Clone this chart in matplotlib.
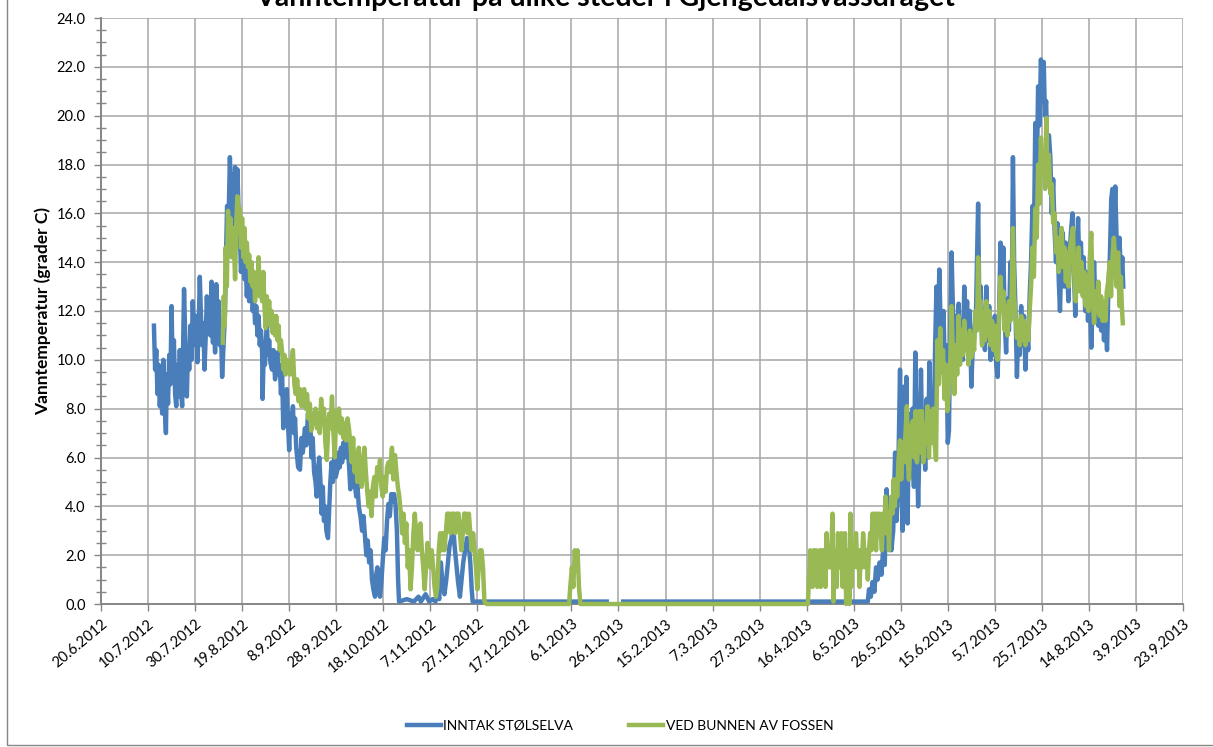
import datetime as dt

import numpy as np
import matplotlib
matplotlib.use('Agg')
import matplotlib.pyplot as plt
from matplotlib.patches import Rectangle

plt.rcParams['font.family'] = ['Lato', 'DejaVu Sans']

# day offset from 20.6.2012, temperature (grader C)
start = dt.datetime(2012, 6, 20)

inntak = [
    (22.5, 11.4), (23, 9.6), (23.5, 10.4), (24, 8.6), (24.5, 9.8), (25, 8.1), (25.5, 9.2),
    (26, 7.8), (26.5, 10.0), (27, 8.3), (27.6, 7.0), (28, 9.4), (28.5, 8.2), (29, 10.2),
    (29.5, 9.0), (30, 12.2), (30.5, 9.4), (31, 10.8), (31.5, 8.6), (32, 8.1), (32.5, 9.8),
    (33, 8.5), (33.5, 10.4), (34, 8.8), (34.5, 8.1), (35.3, 12.9), (36, 10.2), (36.5, 8.5),
    (37, 10.5), (37.5, 9.6), (38, 11.4), (38.5, 10.0), (39, 12.4), (39.5, 11.0), (40, 10.6),
    (40.5, 11.8), (41, 9.9), (41.5, 11.2), (42, 13.4), (42.5, 11.8), (43, 10.6), (43.5, 11.5),
    (44, 9.6), (44.5, 10.9), (45, 12.6), (45.5, 11.4), (46, 12.2), (46.5, 11.0), (47, 13.2),
    (47.6, 10.7), (48, 12.0), (48.5, 10.3), (49, 13.1), (49.5, 11.5), (50, 12.4), (50.5, 10.6),
    (51, 11.2), (51.5, 9.3), (52, 10.4), (52.7, 11.9), (53.2, 14.5), (53.6, 16.3), (54.2, 15.5),
    (54.8, 18.3), (55.3, 16.4), (55.6, 17.6), (56, 14.5), (56.5, 16.0), (57, 17.9), (57.5, 15.6),
    (58, 17.8), (58.5, 16.0), (59, 15.4), (59.5, 13.6), (60, 14.4), (60.5, 13.8), (61, 13.3),
    (61.5, 14.0), (62, 12.6), (62.5, 13.6), (63, 12.4), (63.5, 13.2), (64, 12.9), (64.5, 12.0),
    (65, 12.6), (65.5, 11.5), (66, 12.2), (66.5, 11.0), (67, 11.8), (67.5, 10.6), (68, 11.2),
    (68.5, 10.3), (68.7, 8.4), (69.2, 10.4), (69.7, 9.8), (70.5, 11.6), (71, 10.2), (71.5, 10.8),
    (72, 9.9), (72.7, 9.6), (73.3, 10.4), (74, 9.2), (74.5, 10.0), (75, 10.3), (75.5, 9.4),
    (76, 9.8), (76.5, 8.6), (77, 9.5), (77.5, 7.2), (78, 8.4), (78.5, 7.6), (79, 8.8),
    (79.5, 7.4), (80, 6.3), (80.5, 7.8), (81, 7.2), (81.6, 8.1), (82, 7.0), (82.5, 7.6),
    (83, 6.4), (83.8, 5.6), (84.6, 5.5), (85.2, 6.8), (85.8, 6.2), (86.7, 7.2), (87.3, 6.5),
    (88, 7.8), (88.5, 6.8), (89, 7.4), (89.5, 6.0), (90, 6.8), (90.6, 5.4), (91.2, 5.0),
    (91.7, 4.4), (92.3, 5.6), (92.8, 6.0), (93.3, 5.0), (93.8, 3.7), (94.3, 4.8), (94.8, 3.4),
    (95.3, 4.0), (95.8, 3.0), (96.5, 2.7), (97, 3.8), (97.5, 5.0), (98, 5.8), (98.6, 5.0),
    (99.2, 6.0), (99.8, 5.2), (100.5, 5.5), (101, 6.2), (101.5, 5.6), (102, 6.4), (102.5, 5.8),
    (103, 6.6), (103.5, 6.0), (104, 6.8), (104.5, 7.0), (105, 6.2), (105.5, 5.6), (106, 4.7),
    (106.6, 5.4), (107.2, 5.8), (107.8, 5.0), (108.5, 4.4), (109, 4.9), (109.6, 4.0),
    (110.3, 3.6), (111, 3.0), (111.6, 3.6), (112.2, 2.8), (112.8, 2.0), (113.4, 2.6), (114, 1.7),
    (114.6, 2.2), (115.2, 1.0), (115.8, 0.6), (116.5, 0.3), (117, 1.2), (117.5, 1.5), (118, 0.8),
    (118.6, 0.3), (119.2, 0.9), (119.8, 1.8), (120.4, 2.7), (121, 2.2), (121.6, 3.4),
    (122.2, 4.1), (122.8, 3.6), (123.4, 4.5), (124, 4.2), (124.6, 4.5), (125.2, 4.1),
    (125.8, 3.0), (126.3, 1.0), (126.7, 0.1), (130, 0.2), (133, 0.1), (135, 0.3), (136, 0.1),
    (138, 0.4), (139.5, 0.1), (141, 0.2), (142.2, 0.1), (143, 0.6), (143.8, 0.2), (144.5, 1.7),
    (145.2, 0.8), (146, 0.4), (146.8, 1.0), (147.5, 1.7), (148.2, 2.4), (149, 2.7), (149.7, 3.3),
    (150.3, 2.4), (151, 1.7), (151.8, 0.9), (152.6, 0.3), (153.3, 1.0), (154, 1.7), (154.8, 2.2),
    (155.6, 2.7), (156.3, 2.5), (157, 1.7), (157.6, 0.6), (158, 0.1), (215, 0.1),
    (218, np.nan), (222, 0.1), (326, 0.1),
    (326.5, 0.6), (327.3, 0.3), (328, 0.9), (328.8, 0.5), (329.5, 1.5), (330.2, 1.0),
    (331, 1.7), (331.8, 1.2), (332.5, 2.2), (333.2, 1.6), (334, 4.7), (334.5, 2.4), (335.2, 3.2),
    (336, 2.2), (336.8, 3.0), (337.6, 6.2), (338.2, 3.4), (338.8, 4.5), (339.7, 9.6),
    (340.2, 5.8), (340.8, 3.0), (341.3, 8.9), (341.8, 6.0), (342.4, 9.3), (342.9, 3.3),
    (343.5, 7.8), (344.2, 5.2), (345, 8.0), (345.6, 4.8), (346.2, 10.3), (346.8, 6.5),
    (347.4, 4.0), (348, 6.8), (348.6, 9.6), (349.2, 6.2), (349.8, 7.2), (350.4, 5.5),
    (351, 8.4), (351.6, 6.0), (352.2, 9.9), (352.8, 7.0), (353.4, 8.2), (354, 7.0),
    (354.6, 10.5), (355.2, 13.0), (355.8, 10.8), (356.4, 13.7), (357, 11.2), (357.6, 9.5),
    (358.2, 12.0), (358.8, 9.2), (359.4, 10.6), (360, 6.6), (360.5, 7.1), (361, 11.0),
    (361.6, 14.4), (362.2, 12.0), (362.8, 9.4), (363.4, 11.8), (364, 9.9), (364.6, 12.3),
    (365.2, 10.4), (365.8, 11.6), (366.4, 10.0), (367, 13.0), (367.6, 11.0), (368.2, 12.4),
    (368.8, 10.2), (369.4, 12.0), (370, 8.9), (370.6, 10.5), (371.2, 11.0), (372, 12.0),
    (372.9, 16.4), (373.5, 11.4), (374, 13.0), (374.6, 10.6), (375.2, 11.8), (375.8, 10.4),
    (376.4, 13.0), (377, 10.8), (377.6, 12.2), (378.2, 10.0), (378.8, 11.6), (379.4, 10.2),
    (380, 11.8), (380.6, 9.8), (381.2, 9.3), (381.8, 11.8), (382.4, 14.8), (383, 12.2),
    (383.6, 14.6), (384.2, 11.6), (384.8, 10.3), (385.4, 12.5), (386, 11.2), (386.6, 14.0),
    (387.2, 12.4), (387.7, 18.3), (388.2, 14.0), (388.8, 12.0), (389.4, 9.3), (390, 11.4),
    (390.6, 10.2), (391.2, 12.2), (391.8, 10.6), (392.4, 11.8), (393, 9.6), (393.6, 11.2),
    (394.2, 10.4), (394.8, 12.6), (395.4, 14.0), (396, 16.3), (396.6, 14.8), (397.2, 19.7),
    (397.8, 17.2), (398.4, 21.2), (399, 19.6), (399.6, 22.3), (400.2, 20.6), (400.8, 22.2),
    (401.3, 20.0), (401.8, 20.6), (402.4, 18.0), (403, 19.2), (403.6, 18.3), (404.2, 16.0),
    (404.8, 17.4), (405.4, 15.3), (406, 14.0), (406.6, 15.6), (407.2, 13.2), (407.7, 12.0),
    (408.3, 14.2), (408.9, 15.2), (409.5, 13.0), (410.1, 14.8), (410.7, 13.6), (411.3, 12.4),
    (411.9, 14.6), (412.5, 15.4), (413, 16.0), (413.6, 13.8), (414.2, 11.8), (414.8, 14.4),
    (415.4, 15.8), (416, 13.4), (416.6, 14.8), (417.2, 13.0), (417.8, 14.2), (418.4, 12.0),
    (419, 13.6), (419.6, 11.6), (420.3, 12.8), (421, 10.5), (421.6, 12.4), (422.2, 14.0),
    (422.8, 12.2), (423.4, 13.0), (424, 11.4), (424.6, 12.6), (425.2, 11.2), (425.8, 12.4),
    (426.4, 10.8), (427, 12.0), (427.7, 10.4), (428.3, 13.0), (428.9, 14.2), (429.5, 16.6),
    (430, 17.0), (430.6, 15.0), (431.2, 17.1), (431.8, 14.8), (432.4, 13.6), (433, 15.0),
    (433.6, 13.4), (434.2, 14.2), (434.6, 13.0),
]

fossen = [
    (51.8, 10.7), (52.2, 12.6), (52.6, 11.4), (53, 14.6), (53.5, 13.0), (54, 16.1), (54.5, 14.4),
    (55, 15.8), (55.5, 14.2), (56, 15.4), (56.5, 14.8), (57, 13.3), (57.5, 15.6), (58, 16.7),
    (58.5, 15.2), (59, 16.2), (59.5, 14.6), (60, 15.8), (60.5, 14.2), (61, 15.4), (61.5, 14.0),
    (62, 14.8), (62.5, 13.8), (63, 14.3), (63.5, 13.2), (64, 14.0), (64.5, 13.0), (65, 13.6),
    (65.5, 12.4), (66, 13.4), (66.5, 12.8), (67, 14.2), (67.5, 12.6), (68, 13.1), (68.5, 12.4),
    (69, 13.6), (69.5, 12.2), (70, 11.3), (70.5, 12.6), (71, 11.8), (71.5, 12.4), (72, 11.4),
    (72.5, 12.0), (73, 11.1), (73.5, 11.8), (74, 11.0), (74.5, 11.8), (75, 10.8), (75.5, 11.4),
    (76, 10.4), (76.5, 10.8), (77, 10.3), (77.5, 9.6), (78, 10.2), (78.5, 9.4), (79, 10.0),
    (79.5, 9.6), (80, 9.8), (80.5, 9.4), (81, 10.0), (81.6, 10.4), (82.2, 9.0), (82.8, 8.6),
    (83.4, 9.2), (84, 8.3), (84.6, 8.8), (85.2, 8.1), (85.8, 8.6), (86.4, 8.8), (87, 8.0),
    (87.6, 8.6), (88.2, 7.6), (88.8, 8.2), (89.4, 7.1), (90, 7.8), (90.6, 7.4), (91.2, 8.0),
    (91.8, 7.2), (92.4, 7.8), (93, 7.0), (93.6, 8.4), (94.2, 7.4), (94.8, 8.0), (95.4, 6.6),
    (96, 5.9), (96.5, 7.0), (97, 7.8), (97.6, 7.2), (98.2, 8.5), (98.8, 7.0), (99.4, 6.0),
    (100, 7.9), (100.6, 7.2), (101.2, 8.0), (101.8, 7.0), (102.4, 7.6), (103, 6.8), (103.6, 7.4),
    (104.2, 6.7), (104.8, 7.6), (105.4, 7.2), (106, 6.6), (106.6, 5.8), (107.2, 6.8),
    (107.8, 5.4), (108.4, 6.2), (109, 5.0), (109.6, 6.4), (110.2, 5.6), (110.8, 4.8),
    (111.4, 5.6), (112, 6.4), (112.6, 5.4), (113.2, 4.6), (113.8, 4.0), (114.4, 4.6), (115, 3.6),
    (115.6, 4.8), (116.2, 5.2), (116.8, 4.4), (117.4, 5.6), (118, 5.1), (118.6, 5.9),
    (119.2, 4.8), (119.8, 4.4), (120.4, 5.2), (121, 4.6), (121.6, 5.6), (122.2, 5.8),
    (122.8, 5.4), (123.7, 6.4), (124.3, 5.1), (125, 6.1), (125.6, 5.4), (126.2, 4.8),
    (126.8, 4.4), (127.4, 3.8), (128, 2.9), (128.6, 3.7), (129.2, 2.5), (129.8, 3.3),
    (130.4, 1.5), (131, 2.2), (131.6, 0.6), (132.2, 1.5), (132.8, 2.9), (133.4, 3.7),
    (134, 2.9), (134.6, 2.2), (135.2, 2.9), (135.8, 3.3), (136.4, 2.2), (137, 1.5), (137.6, 0.6),
    (138.2, 1.5), (138.8, 2.5), (139.4, 2.2), (140, 1.5), (140.6, 2.2), (141.2, 1.5),
    (141.8, 0.7), (142.4, 0.3), (143, 0.7), (143.6, 2.2), (144.2, 2.9), (144.8, 2.2),
    (145.4, 2.9), (146, 2.2), (146.6, 2.9), (147.2, 3.7), (148, 3.7), (148.6, 2.9), (149.2, 3.7),
    (150, 3.7), (150.6, 2.9), (151.2, 3.7), (152, 3.7), (152.6, 2.9), (153.2, 2.2), (153.8, 2.9),
    (154.4, 3.7), (155.2, 3.7), (155.8, 2.9), (156.4, 3.7), (157, 2.9), (157.6, 2.2),
    (158.2, 2.9), (158.8, 2.2), (159.4, 1.5), (160, 0.6), (160.6, 1.5), (161.2, 2.2),
    (161.8, 2.2), (162.4, 1.5), (163, 0.1), (164, 0.0), (199, 0.0), (199.5, 0.7), (200.2, 1.5),
    (200.8, 0.7), (201.4, 2.2), (202, 1.5), (202.6, 2.2), (203.2, 0.7), (203.8, 0.0),
    (300.5, 0.0), (301, 1.0), (301.5, 2.2), (302, 1.5), (302.5, 0.7), (303, 2.2), (303.5, 1.5),
    (304, 2.2), (304.5, 0.7), (305, 1.5), (305.5, 2.2), (306, 0.7), (306.5, 2.2), (307, 1.5),
    (307.5, 2.2), (308, 0.7), (308.5, 2.9), (309, 1.5), (309.5, 2.2), (310, 1.5), (310.5, 2.2),
    (311, 3.7), (311.4, 0.1), (311.8, 1.5), (312.3, 2.2), (312.8, 0.7), (313.3, 2.9),
    (313.8, 1.5), (314.3, 2.2), (314.8, 2.9), (315.3, 0.7), (315.8, 2.2), (316.3, 2.9),
    (316.8, 0.0), (317.3, 1.5), (317.8, 2.2), (318.2, 0.0), (318.6, 3.7), (319, 0.7),
    (319.5, 2.2), (320, 1.5), (320.5, 2.2), (321, 2.9), (321.5, 1.5), (322, 2.2), (322.5, 0.7),
    (323, 2.2), (323.5, 1.5), (324, 2.9), (324.5, 2.2), (325, 1.5), (325.5, 2.2), (326, 1.0),
    (326.5, 2.2), (327, 2.9), (327.5, 2.2), (328, 3.7), (328.5, 2.9), (329, 3.7), (329.5, 2.2),
    (330, 3.7), (330.5, 2.9), (331, 3.7), (331.5, 2.9), (332, 2.2), (332.5, 3.7), (333, 2.9),
    (333.5, 4.4), (334, 2.9), (334.5, 3.7), (335, 2.2), (335.5, 3.7), (336, 4.4), (336.5, 3.7),
    (337, 5.1), (337.5, 4.0), (338, 5.1), (338.5, 4.4), (339, 5.8), (339.7, 6.7), (340.2, 5.1),
    (340.8, 6.6), (341.3, 5.8), (341.8, 6.6), (342.6, 8.1), (343, 5.9), (343.5, 5.1),
    (344, 6.6), (344.5, 7.3), (345.2, 7.5), (345.8, 6.0), (346.3, 7.9), (346.9, 5.8),
    (347.5, 6.8), (348, 7.9), (348.5, 6.2), (349, 7.9), (349.6, 5.8), (350.2, 7.3), (350.8, 6.6),
    (351.4, 8.1), (352, 6.0), (352.6, 7.9), (353.2, 6.6), (353.8, 8.0), (354.4, 6.6), (355, 5.9),
    (355.6, 10.8), (356.2, 9.0), (356.8, 11.3), (357.4, 9.6), (358, 10.4), (358.6, 8.4),
    (359.2, 9.8), (359.8, 7.9), (360.4, 8.6), (361, 9.8), (361.6, 12.2), (362.2, 10.0),
    (362.8, 8.6), (363.4, 10.6), (364, 9.4), (364.6, 11.8), (365.2, 9.8), (365.8, 11.2),
    (366.4, 10.2), (367, 11.6), (367.6, 10.4), (368.2, 11.0), (368.8, 9.8), (369.4, 11.2),
    (370, 10.1), (370.6, 11.0), (371.2, 10.4), (371.8, 12.0), (372.4, 11.2), (372.9, 14.2),
    (373.5, 11.8), (374, 12.4), (374.6, 10.6), (375.2, 12.0), (375.8, 10.8), (376.4, 12.4),
    (377, 11.0), (377.6, 12.0), (378.2, 10.6), (378.8, 11.6), (379.4, 10.4), (380, 11.4),
    (380.6, 10.2), (381.2, 10.0), (381.8, 11.8), (382.4, 13.4), (383, 12.0), (383.6, 12.8),
    (384.2, 11.2), (384.8, 12.2), (385.4, 11.0), (386, 12.4), (386.6, 11.6), (387.2, 12.8),
    (387.7, 15.4), (388.2, 12.6), (388.8, 11.8), (389.4, 10.9), (390, 11.6), (390.6, 10.6),
    (391.2, 11.8), (391.8, 10.8), (392.4, 11.6), (393, 10.6), (393.6, 11.4), (394.2, 10.8),
    (394.8, 12.0), (395.4, 13.0), (396, 14.6), (396.6, 13.4), (397.2, 16.2), (397.8, 15.0),
    (398.4, 18.0), (399, 16.4), (399.6, 19.1), (400.2, 17.6), (400.8, 18.4), (401.4, 17.0),
    (401.9, 19.9), (402.4, 17.2), (403, 18.4), (403.6, 16.8), (404.2, 17.2), (404.8, 15.6),
    (405.4, 16.0), (406, 14.4), (406.6, 15.0), (407.2, 13.6), (407.8, 14.4), (408.4, 15.4),
    (409, 13.8), (409.6, 14.6), (410.2, 13.2), (410.8, 14.4), (411.4, 13.0), (412, 14.6),
    (412.6, 15.0), (413.2, 15.4), (413.8, 13.4), (414.4, 12.4), (415, 13.8), (415.6, 14.6),
    (416.2, 12.8), (416.8, 14.0), (417.4, 12.6), (418, 13.6), (418.6, 12.2), (419.2, 13.4),
    (419.8, 12.0), (420.4, 14.2), (421, 15.2), (421.6, 12.6), (422.2, 11.5), (422.8, 12.8),
    (423.4, 12.0), (424, 13.2), (424.6, 11.8), (425.2, 12.6), (425.8, 11.6), (426.4, 12.4),
    (427, 11.6), (427.6, 12.8), (428.2, 13.2), (428.8, 14.0), (429.4, 12.6), (430, 14.2),
    (430.6, 15.0), (431.2, 14.0), (431.8, 13.0), (432.4, 14.4), (433, 12.2), (433.6, 13.4),
    (434, 12.2), (434.4, 11.5),
]

series_names = ['INNTAK STØLSELVA', 'VED BUNNEN AV FOSSEN']
series_colors = ['#4a7ebb', '#98b954']
title = 'Vanntemperatur på ulike steder i Gjengedalsvassdraget'


def to_dates(points):
    days, temps = zip(*points)
    dates = [start + dt.timedelta(days=d) for d in days]
    return dates, np.array(temps, dtype=float)


fig = plt.figure(figsize=(12.13, 7.47), dpi=100)
ax = fig.add_axes([101 / 1213, 1 - 604 / 747, 1082 / 1213, 586 / 747])

for pts, name, col in zip([inntak, fossen], series_names, series_colors):
    d, t = to_dates(pts)
    ax.plot(d, t, color=col, lw=3.2, label=name, zorder=3, clip_on=False,
            solid_joinstyle='round')

tick_dates = [start + dt.timedelta(days=20 * i) for i in range(24)]
ax.set_xlim(tick_dates[0], tick_dates[-1])
ax.set_xticks(tick_dates)
ax.set_xticklabels([f'{d.day}.{d.month}.{d.year}' for d in tick_dates],
                   rotation=40, ha='right', rotation_mode='anchor', fontsize=10.5)

ax.set_ylim(0, 24)
ax.set_yticks(np.arange(0, 24.1, 2))
ax.set_yticks(np.arange(0, 24.1, 0.5), minor=True)
ax.yaxis.set_major_formatter(matplotlib.ticker.FormatStrFormatter('%.1f'))
ax.tick_params(axis='y', labelsize=10.5, length=5, width=1, color='#868686', pad=6)
ax.tick_params(axis='y', which='minor', direction='inout', length=7, width=1, color='#868686')
ax.tick_params(axis='x', length=5, width=1, color='#868686', pad=4)

ax.grid(True, color='#a6a6a6', lw=1.1, zorder=1)
ax.set_axisbelow(True)
for s in ['top', 'right']:
    ax.spines[s].set_visible(False)
for s in ['left', 'bottom']:
    ax.spines[s].set_color('#868686')
    ax.spines[s].set_linewidth(1.4)

ax.set_ylabel('Vanntemperatur (grader C)', fontsize=12.5, fontweight='bold', labelpad=4)

fig.text(0.499, 1 - 6 / 747, title, ha='center', va='baseline',
         fontsize=20.5, fontweight='bold')

fig.legend(loc='center', bbox_to_anchor=(0.511, 1 - 726 / 747), ncol=2, frameon=False,
           fontsize=10, handlelength=2.5, handletextpad=0.15, columnspacing=4)

# outer chart frame
fig.patches.append(Rectangle((7 / 1213, 2 / 747), 1.2, 1.2, transform=fig.transFigure,
                             fill=False, edgecolor='#868686', lw=1))

plt.savefig('out.png', dpi=100)
